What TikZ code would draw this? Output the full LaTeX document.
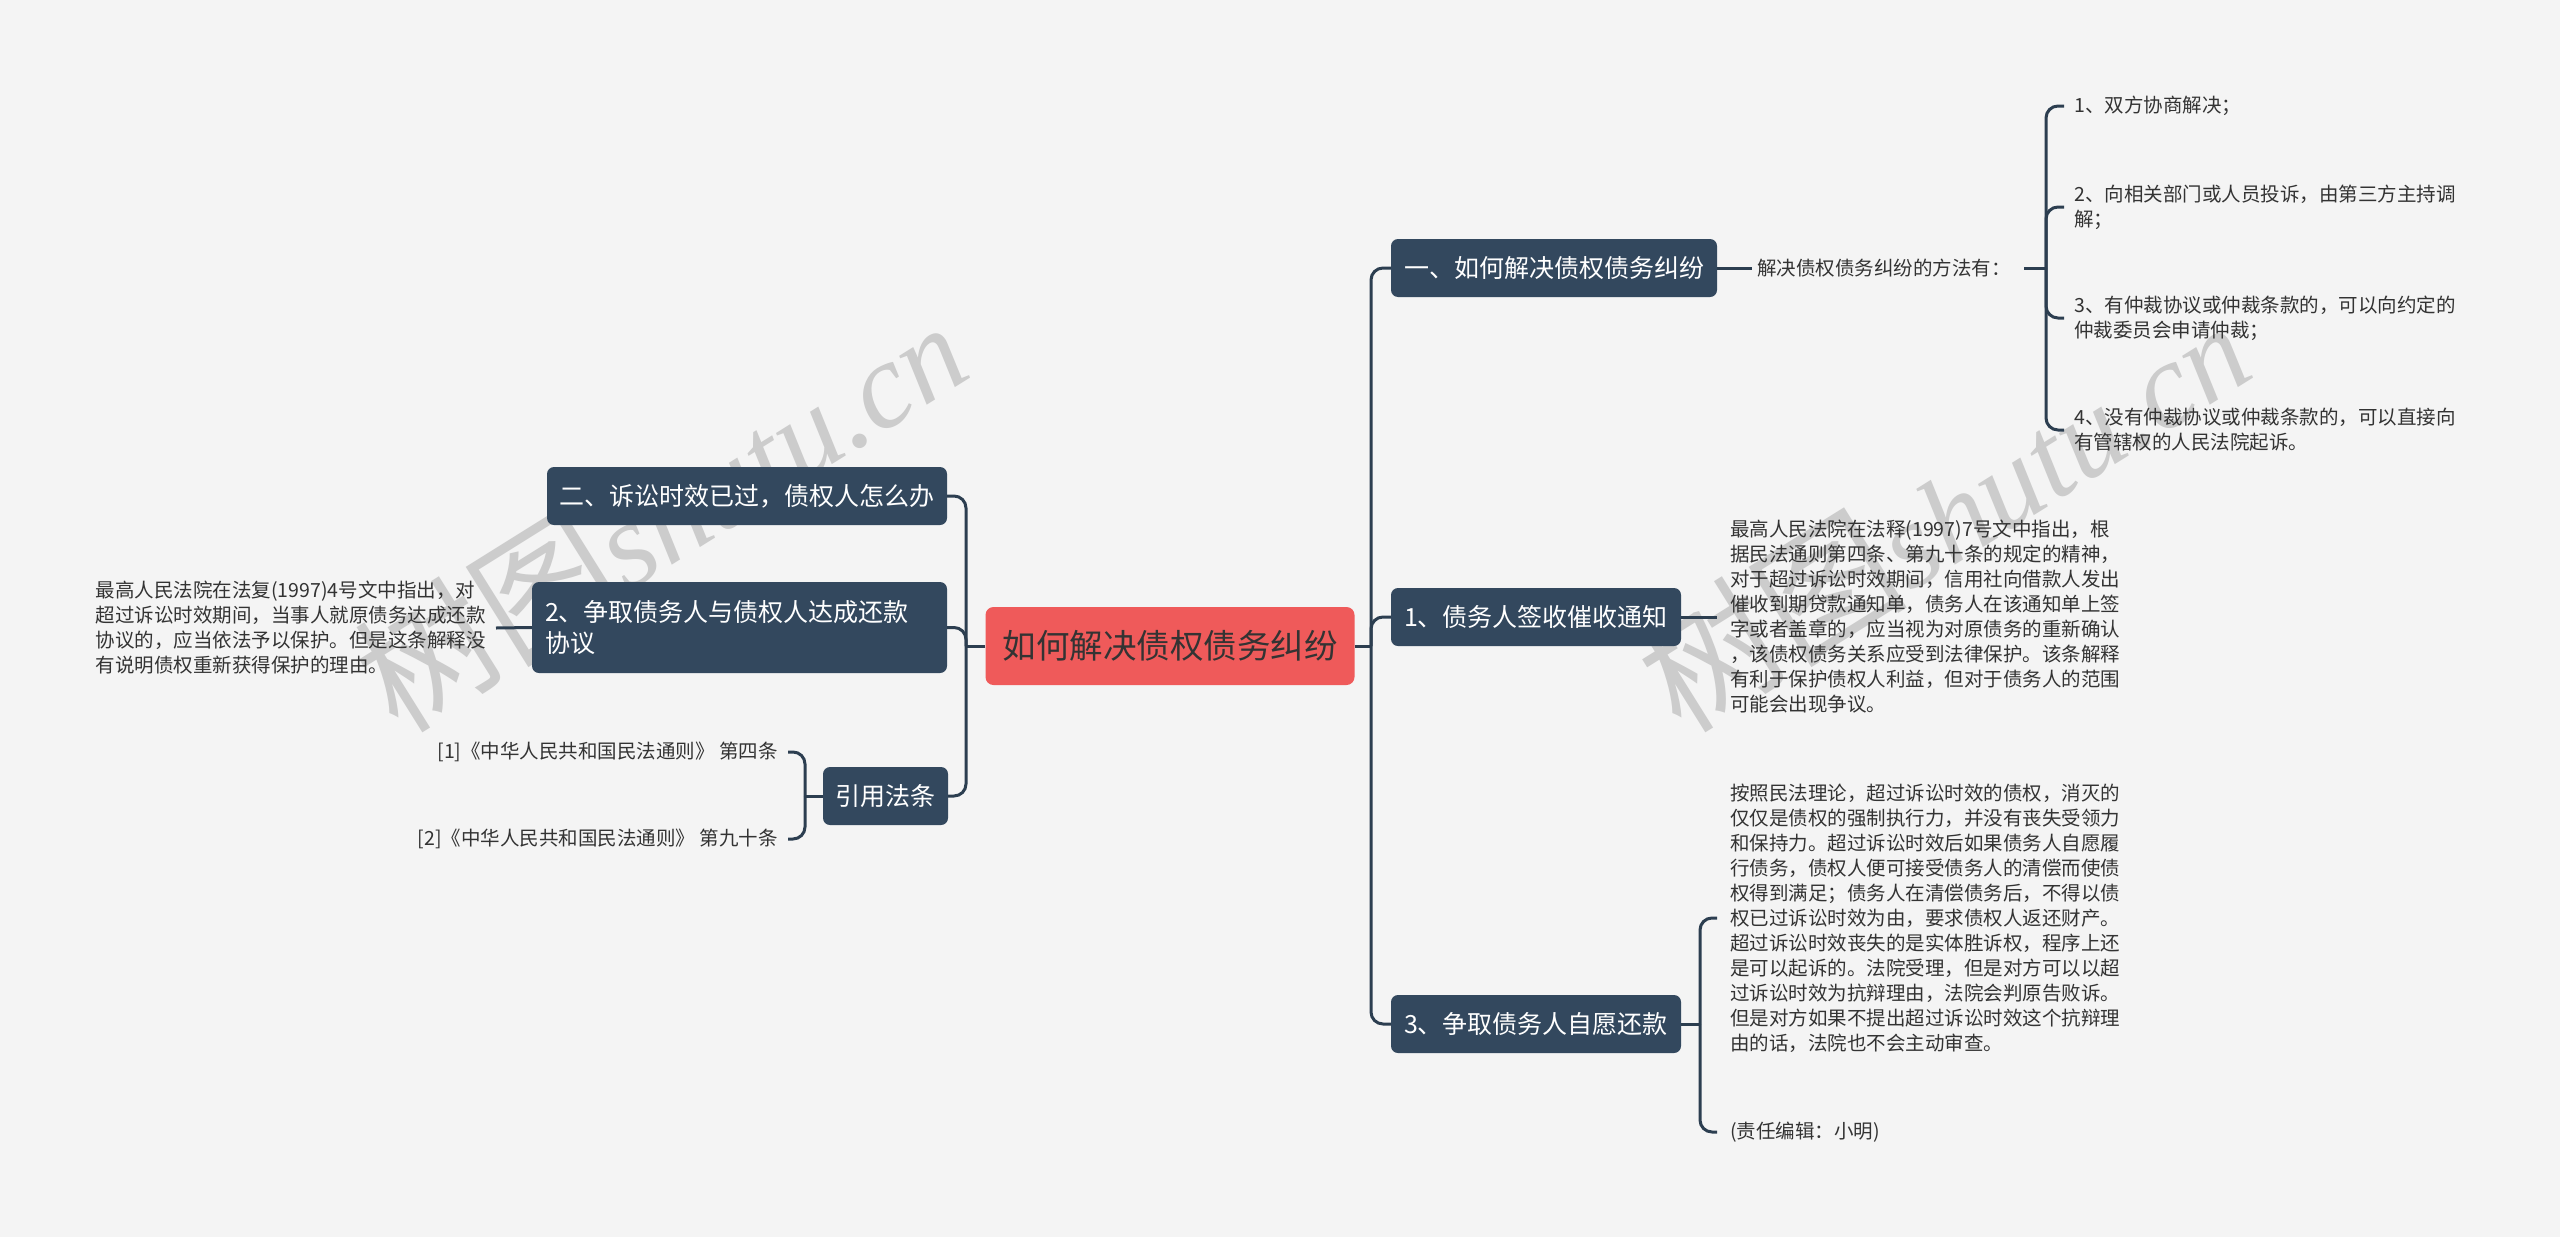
\documentclass[tikz,border=0pt]{standalone}
\usepackage{fontspec}
\setmainfont{Noto Sans CJK SC}
\newfontfamily\wmserif{Liberation Serif}
\definecolor{bgc}{HTML}{F4F4F4}
\definecolor{nodec}{HTML}{33485E}
\definecolor{linec}{HTML}{2C3E50}
\definecolor{rootc}{HTML}{EF5A5A}
\definecolor{txt}{HTML}{333333}
\definecolor{wmc}{HTML}{CCCCCC}
\begin{document}
\begin{tikzpicture}[x=1pt,y=-1pt,
  conn/.style={draw=linec, line width=3pt, rounded corners=12pt},
  rootn/.style={fill=rootc, rounded corners=8pt, text=txt, inner sep=0pt, font=\fontsize{33.5}{38}\selectfont},
  topic/.style={fill=nodec, rounded corners=7pt, text=white, inner sep=0pt, font=\fontsize{25}{31}\selectfont, align=center},
  note/.style={text=txt, inner ysep=0pt, align=left, font=\fontsize{19.5}{25}\selectfont},
  wmark/.style={rotate=32, text=wmc, font=\fontsize{122}{122}\selectfont}
]
\fill[bgc] (0,0) rectangle (2560,1237);
\useasboundingbox (0,0) rectangle (2560,1237);

% watermarks
\node[wmark] (wm1) at (660,512) {{\fontsize{135}{135}\selectfont 树图}{\wmserif\itshape shutu.cn}};
\node[wmark] (wm2) at (1943,512) {{\fontsize{135}{135}\selectfont 树图}{\wmserif\itshape shutu.cn}};

% root
\node[rootn, minimum width=369pt, minimum height=78pt] (root) at (1170,646) {如何解决债权债务纠纷};

% right topics
\node[topic, minimum width=326pt, minimum height=58pt] (r1) at (1554,268) {一、如何解决债权债务纠纷};
\node[topic, minimum width=290pt, minimum height=58pt] (r2) at (1536,617) {1、债务人签收催收通知};
\node[topic, minimum width=290pt, minimum height=58pt] (r3) at (1536,1024) {3、争取债务人自愿还款};

% left topics
\node[topic, minimum width=400pt, minimum height=58pt] (l1) at (747,496) {二、诉讼时效已过，债权人怎么办};
\node[topic, minimum height=91pt, text width=389pt, inner xsep=13pt, align=left] (l2) at (739.5,627.5) {2、争取债务人与债权人达成还款\\协议};
\node[topic, minimum width=125pt, minimum height=58pt] (l3) at (885.5,796) {引用法条};

% spines
\coordinate (rs) at (1371,646);
\coordinate (ls) at (966,646);
\draw[conn] (root.east) -- (rs);
\draw[conn] (rs) |- (r1.west);
\draw[conn] (rs) |- (r2.west);
\draw[conn] (rs) |- (r3.west);
\draw[conn] (root.west) -- (ls);
\draw[conn] (ls) |- (l1.east);
\draw[conn] (ls) |- (l2.east);
\draw[conn] (ls) |- (l3.east);

% branch 一
\node[note, anchor=west, inner xsep=5pt, text width=262pt] (r1a) at (1752,268) {解决债权债务纠纷的方法有：};
\draw[conn] (r1.east) -- (r1a.west);
\coordinate (b1) at (2046,268);
\draw[conn] (r1a.east) -- (b1);
\node[note, anchor=west, inner xsep=10pt] (i1) at (2064,106) {1、双方协商解决；};
\node[note, anchor=west, inner xsep=10pt] (i2) at (2064,207) {2、向相关部门或人员投诉，由第三方主持调\\解；};
\node[note, anchor=west, inner xsep=10pt] (i3) at (2064,318) {3、有仲裁协议或仲裁条款的，可以向约定的\\仲裁委员会申请仲裁；};
\node[note, anchor=west, inner xsep=10pt] (i4) at (2064,430) {4、没有仲裁协议或仲裁条款的，可以直接向\\有管辖权的人民法院起诉。};
\draw[conn] (b1) |- (i1.west);
\draw[conn] (b1) |- (i2.west);
\draw[conn] (b1) |- (i3.west);
\draw[conn] (b1) |- (i4.west);

% branch 1、
\node[note, anchor=west, inner xsep=13pt] (r2a) at (1717,617) {最高人民法院在法释(1997)7号文中指出，根\\据民法通则第四条、第九十条的规定的精神，\\对于超过诉讼时效期间，信用社向借款人发出\\催收到期贷款通知单，债务人在该通知单上签\\字或者盖章的，应当视为对原债务的重新确认\\，该债权债务关系应受到法律保护。该条解释\\有利于保护债权人利益，但对于债务人的范围\\可能会出现争议。};
\draw[conn] (r2.east) -- (r2a.west);

% branch 3、
\node[note, anchor=west, inner xsep=13pt] (r3a) at (1717,918) {按照民法理论，超过诉讼时效的债权，消灭的\\仅仅是债权的强制执行力，并没有丧失受领力\\和保持力。超过诉讼时效后如果债务人自愿履\\行债务，债权人便可接受债务人的清偿而使债\\权得到满足；债务人在清偿债务后，不得以债\\权已过诉讼时效为由，要求债权人返还财产。\\超过诉讼时效丧失的是实体胜诉权，程序上还\\是可以起诉的。法院受理，但是对方可以以超\\过诉讼时效为抗辩理由，法院会判原告败诉。\\但是对方如果不提出超过诉讼时效这个抗辩理\\由的话，法院也不会主动审查。};
\node[note, anchor=west, inner xsep=13pt] (r3b) at (1717,1132) {(责任编辑：小明)};
\coordinate (b3) at (1700,1024);
\draw[conn] (r3.east) -- (b3);
\draw[conn] (b3) |- (r3a.west);
\draw[conn] (b3) |- (r3b.west);

% branch 2、 (left)
\node[note, anchor=east, inner xsep=10pt] (l2a) at (496,628) {最高人民法院在法复(1997)4号文中指出，对\\超过诉讼时效期间，当事人就原债务达成还款\\协议的，应当依法予以保护。但是这条解释没\\有说明债权重新获得保护的理由。};
\draw[conn] (l2.west) -- (l2a.east);

% citations
\node[note, anchor=east, inner xsep=10pt] (c1) at (788,752) {[1]《中华人民共和国民法通则》 第四条};
\node[note, anchor=east, inner xsep=10pt] (c2) at (788,839) {[2]《中华人民共和国民法通则》 第九十条};
\coordinate (b2) at (805,796);
\draw[conn] (l3.west) -- (b2);
\draw[conn] (b2) |- (c1.east);
\draw[conn] (b2) |- (c2.east);
\end{tikzpicture}
\end{document}
